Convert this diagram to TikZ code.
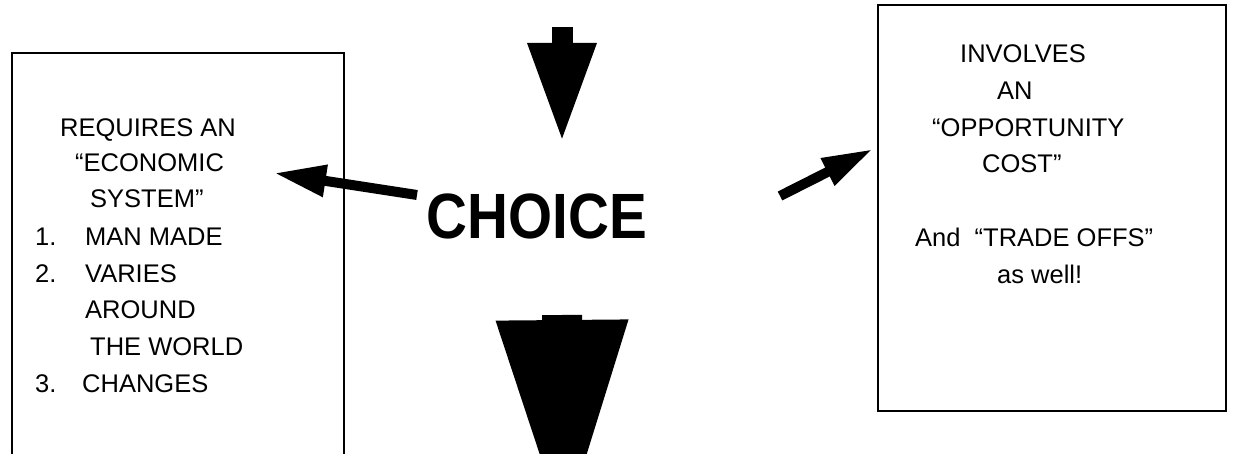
\documentclass[tikz,border=0pt]{standalone}
\usepackage{fontspec}
\setmainfont{Liberation Sans}
\usetikzlibrary{arrows.meta}
\begin{document}
\begin{tikzpicture}[x=1pt,y=-1pt,
  box/.style={draw=black,line width=2.5pt},
  txt/.style={anchor=base west,inner sep=0pt,font=\fontsize{25.5}{30}\selectfont},
  blockarrow/.style={line width=#1,line cap=butt}
]
\useasboundingbox (0,0) rectangle (1233,454);
\clip (0,0) rectangle (1233,454);
\fill[white] (0,0) rectangle (1233,454);

% boxes
\draw[box] (12,53) rectangle (344,480);
\draw[box] (878,5) rectangle (1226,411);

% left box text
\node[txt] (l1) at (60,137) {REQUIRES AN};
\node[txt] (l2) at (75,172) {“ECONOMIC};
\node[txt] (l3) at (90,208) {SYSTEM”};
\node[txt] (n1) at (35,245) {1.};
\node[txt] (l4) at (85,245) {MAN MADE};
\node[txt] (n2) at (35,282) {2.};
\node[txt] (l5) at (85,282) {VARIES};
\node[txt] (l6) at (85,318) {AROUND};
\node[txt] (l7) at (90,355) {THE WORLD};
\node[txt] (n3) at (35,392) {3.};
\node[txt] (l8) at (82,392) {CHANGES};

% right box text
\node[txt] (r1) at (960,63) {INVOLVES};
\node[txt] (r2) at (997,100) {AN};
\node[txt] (r3) at (932,137) {“OPPORTUNITY};
\node[txt] (r4) at (982,173) {COST”};
\node[txt] (r5) at (915,247) {And\ \ “TRADE OFFS”};
\node[txt] (r6) at (997,283) {as well!};

% centre word
\node[anchor=base,inner sep=0pt,font=\bfseries\fontsize{64}{70}\selectfont] (choice) at (537,239) {\scalebox{0.885}[1]{CHOICE}};

% arrows
\coordinate (ttail) at (562,27);
\coordinate (ttip) at (562,143);
\draw[blockarrow=21pt,-{Triangle[length=100pt,width=63pt]}] (ttail) -- (ttip);

\coordinate (btail) at (562,315);
\coordinate (btip) at (564,537);
\draw[blockarrow=40pt,-{Triangle[length=217pt,width=120pt]}] (btail) -- (btip);

\coordinate (ltail) at (417,195);
\coordinate (ltip) at (274,173);
\draw[blockarrow=10pt,-{Triangle[length=52pt,width=30pt]}] (ltail) -- (ltip);

\coordinate (rtail) at (780,196);
\coordinate (rtip) at (873,149);
\draw[blockarrow=10pt,-{Triangle[length=51pt,width=28pt]}] (rtail) -- (rtip);
\end{tikzpicture}
\end{document}
